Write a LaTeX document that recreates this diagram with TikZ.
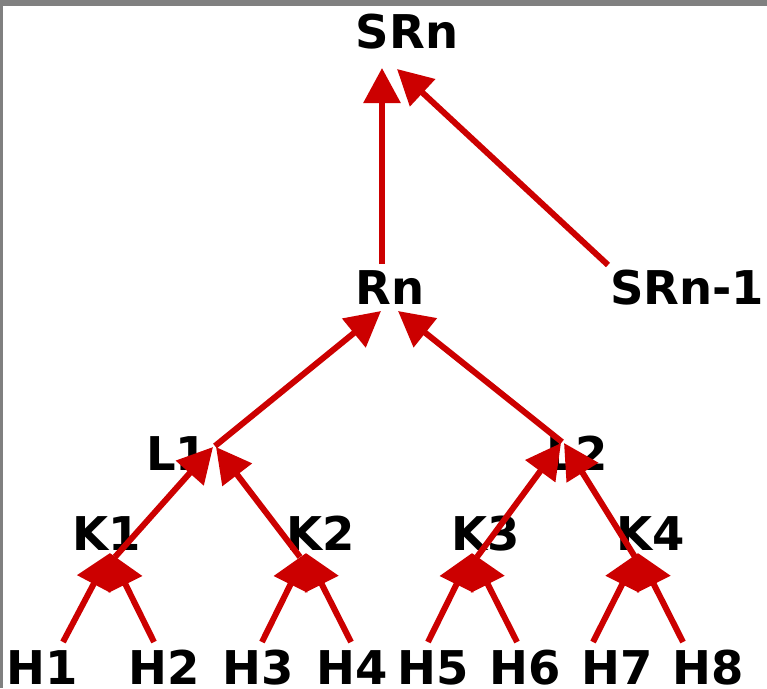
\documentclass[tikz,border=0pt]{standalone}
\usepackage{fontspec}
\setmainfont{DejaVu Sans}
\usetikzlibrary{arrows.meta}
\definecolor{edgered}{HTML}{CC0000}
\definecolor{framegray}{HTML}{808080}
\tikzset{
  lbl/.style={anchor=base, inner sep=0pt, font=\fontsize{46.5}{46.5}\selectfont\bfseries},
  edge/.style={draw=edgered, line width=6pt, -{Triangle[length=35pt,width=36pt]}, edgered},
}
\begin{document}
\begin{tikzpicture}[x=1pt,y=-1pt]
\clip (0,0) rectangle (767,688);
\fill[white] (0,0) rectangle (767,688);
\fill[framegray] (0,0) rectangle (767,6);
\fill[framegray] (0,0) rectangle (3,688);
% labels
\node[lbl] (SRn) at (407,48) {SRn};
\node[lbl] (Rn) at (390,304) {Rn};
\node[lbl, anchor=base west] (SRn1) at (610,304) {SRn-1};
\node[lbl] (L1) at (177,470) {L1};
\node[lbl] (L2) at (577,470) {L2};
\node[lbl] (K1) at (107,550) {K1};
\node[lbl] (K2) at (321,550) {K2};
\node[lbl] (K3) at (486,550) {K3};
\node[lbl] (K4) at (651,550) {K4};
\node[lbl] (H1) at (42,684) {H1};
\node[lbl] (H2) at (164,684) {H2};
\node[lbl] (H3) at (258,684) {H3};
\node[lbl] (H4) at (352,684) {H4};
\node[lbl] (H5) at (433,684) {H5};
\node[lbl] (H6) at (525,684) {H6};
\node[lbl] (H7) at (617,684) {H7};
\node[lbl] (H8) at (708,684) {H8};
% connector end points
\coordinate (SRnA) at (382,68);
\coordinate (SRnB) at (397,69);
\coordinate (RnOut) at (382,264);
\coordinate (SRn1Out) at (608,265);
\coordinate (RnA) at (381,311);
\coordinate (RnB) at (398,311);
\coordinate (L1Out) at (215,446);
\coordinate (L2Out) at (562,442);
\coordinate (L1A) at (213,447);
\coordinate (L1B) at (216,447);
\coordinate (L2A) at (561,443);
\coordinate (L2B) at (564,443);
\coordinate (K1Out) at (115,557);
\coordinate (K2Out) at (300,557);
\coordinate (K3Out) at (477,557);
\coordinate (K4Out) at (635,557);
\coordinate (K1In) at (110,553);
\coordinate (K2In) at (306,553);
\coordinate (K3In) at (472,553);
\coordinate (K4In) at (638,553);
\coordinate (H1Out) at (63,642);
\coordinate (H2Out) at (154,642);
\coordinate (H3Out) at (262,642);
\coordinate (H4Out) at (351,642);
\coordinate (H5Out) at (428,642);
\coordinate (H6Out) at (517,642);
\coordinate (H7Out) at (593,642);
\coordinate (H8Out) at (683,642);
% connectors
\draw[edge] (RnOut) -- (SRnA);
\draw[edge] (SRn1Out) -- (SRnB);
\draw[edge] (L1Out) -- (RnA);
\draw[edge] (L2Out) -- (RnB);
\draw[edge] (K1Out) -- (L1A);
\draw[edge] (K2Out) -- (L1B);
\draw[edge] (K3Out) -- (L2A);
\draw[edge] (K4Out) -- (L2B);
\draw[edge] (H1Out) -- (K1In);
\draw[edge] (H2Out) -- (K1In);
\draw[edge] (H3Out) -- (K2In);
\draw[edge] (H4Out) -- (K2In);
\draw[edge] (H5Out) -- (K3In);
\draw[edge] (H6Out) -- (K3In);
\draw[edge] (H7Out) -- (K4In);
\draw[edge] (H8Out) -- (K4In);
\end{tikzpicture}
\end{document}
